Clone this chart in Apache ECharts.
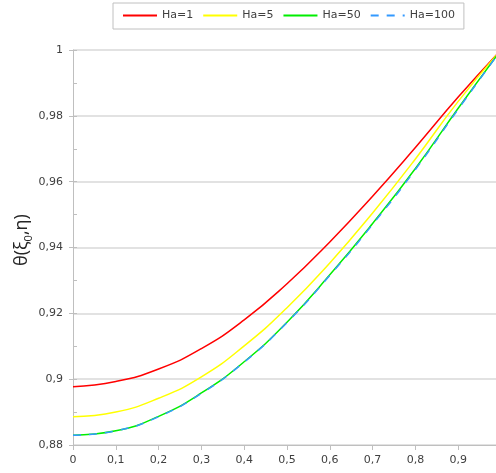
<!DOCTYPE html>
<html>
<head>
<meta charset="utf-8">
<script src="https://cdn.jsdelivr.net/npm/echarts@6/dist/echarts.min.js"></script>
<style>
html,body{margin:0;padding:0;background:#fff;}
#chart{width:496px;height:473px;}
</style>
</head>
<body>
<div id="chart"></div>
<script>
const xValues = [0, 0.1, 0.2, 0.3, 0.4, 0.5, 0.6, 0.7, 0.8, 0.9, 1.0];
const ha1   = [0.8977, 0.8993, 0.9031, 0.9093, 0.9180, 0.9290, 0.9417, 0.9556, 0.9704, 0.9857, 1.0000];
const ha5   = [0.8886, 0.8900, 0.8942, 0.9007, 0.9101, 0.9217, 0.9353, 0.9505, 0.9669, 0.9844, 1.0000];
const ha50  = [0.8830, 0.8843, 0.8887, 0.8958, 0.9053, 0.9173, 0.9317, 0.9473, 0.9640, 0.9823, 1.0000];
const ha100 = [0.8830, 0.8843, 0.8886, 0.8957, 0.9052, 0.9172, 0.9315, 0.9470, 0.9637, 0.9820, 1.0000];
const seriesNames = ['Ha=1', 'Ha=5', 'Ha=50', 'Ha=100'];
const xTicks = [0, 0.1, 0.2, 0.3, 0.4, 0.5, 0.6, 0.7, 0.8, 0.9];
const yTicks = [0.88, 0.9, 0.92, 0.94, 0.96, 0.98, 1];
const yTitle = '{a|θ(ξ}{s|0}{a|,η)}';

function fmt(v) {
  return String(Math.round(v * 100) / 100).replace('.', ',');
}
function pairs(ys) { return xValues.map((x, i) => [x, ys[i]]); }

const chart = echarts.init(document.getElementById('chart'), null, {renderer: 'canvas'});
const font = 'DejaVu Sans';
const axisGray = '#bfbfbf';
const lab = '#404040';

chart.setOption({
  animation: false,
  backgroundColor: '#ffffff',
  grid: {left: 73, top: 50, width: 428, height: 395, containLabel: false, outerBoundsMode: 'none'},
  legend: {
    left: 113, top: 3,
    padding: [7, 9, 8, 9],
    borderColor: '#c0c0c0', borderWidth: 1,
    itemWidth: 34, itemHeight: 12, itemGap: 9,
    itemStyle: {opacity: 0},
    textStyle: {fontFamily: font, fontSize: 11, color: lab},
    data: seriesNames
  },
  graphic: [{
    type: 'text', x: 22, y: 240, rotation: Math.PI / 2,
    style: {
      text: yTitle, align: 'center', verticalAlign: 'middle',
      rich: {
        a: {fontFamily: 'Open Sans', fontSize: 18, fill: '#262626', lineHeight: 24},
        s: {fontFamily: 'Open Sans', fontSize: 11, fill: '#262626', lineHeight: 24, verticalAlign: 'bottom', padding: [8, 0, 0, 0]}
      }
    }
  }],
  xAxis: {
    type: 'value', min: 0, max: 1, interval: 0.1,
    axisLine: {lineStyle: {color: axisGray, width: 1}},
    axisTick: {show: true, length: 5, lineStyle: {color: axisGray}},
    axisLabel: {
      fontFamily: font, fontSize: 11, color: lab, margin: 10,
      formatter: v => (xTicks.some(t => Math.abs(t - v) < 1e-9) ? fmt(v) : '')
    },
    splitLine: {show: false}
  },
  yAxis: [{
    type: 'value', min: 0.88, max: 1, interval: 0.02,
    axisLine: {show: true, lineStyle: {color: axisGray, width: 1}},
    axisTick: {show: true, length: 4, lineStyle: {color: axisGray}},
    axisLabel: {
      fontFamily: font, fontSize: 11, color: lab, margin: 10,
      formatter: v => (yTicks.some(t => Math.abs(t - v) < 1e-9) ? fmt(v) : '')
    },
    splitLine: {show: true, lineStyle: {color: '#d9d9d9', width: 1.5}}
  }, {
    type: 'value', min: 0.88, max: 1, interval: 0.01, position: 'left',
    axisLine: {show: false},
    axisTick: {show: true, inside: true, length: 4, lineStyle: {color: axisGray}},
    axisLabel: {show: false},
    splitLine: {show: false}
  }],
  series: [
    {name: 'Ha=1', type: 'line', data: pairs(ha1), smooth: true, symbol: 'none',
     lineStyle: {color: '#ff0000', width: 1.5}, itemStyle: {color: '#ff0000'}},
    {name: 'Ha=5', type: 'line', data: pairs(ha5), smooth: true, symbol: 'none',
     lineStyle: {color: '#ffff00', width: 1.5}, itemStyle: {color: '#ffff00'}},
    {name: 'Ha=50', type: 'line', data: pairs(ha50), smooth: true, symbol: 'none',
     lineStyle: {color: '#00ee00', width: 1.5}, itemStyle: {color: '#00ee00'}},
    {name: 'Ha=100', type: 'line', data: pairs(ha100), smooth: true, symbol: 'none',
     lineStyle: {color: '#3399ff', width: 1.5, type: [8, 8]}, itemStyle: {color: '#3399ff'}}
  ]
});
</script>
</body>
</html>
